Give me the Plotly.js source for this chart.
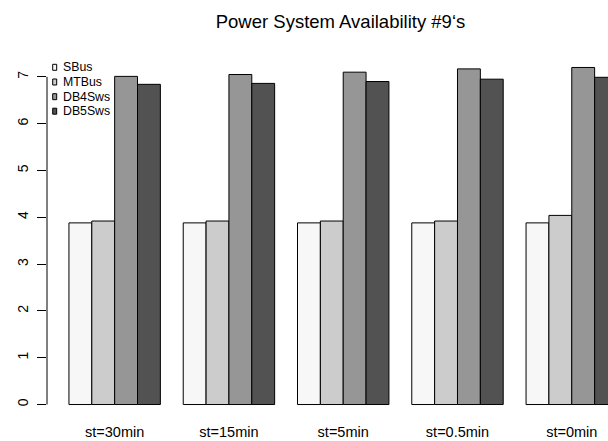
<!DOCTYPE html>
<html>
<head>
<meta charset="utf-8">
<script src="https://cdn.plot.ly/plotly-3.0.1.min.js"></script>
<style>
  html, body { margin: 0; padding: 0; background: #fff; }
  #chart { width: 608px; height: 441px; }
</style>
</head>
<body>
<div id="chart"></div>
<script>
// ---- data ----
const categories = ["st=30min", "st=15min", "st=5min", "st=0.5min", "st=0min"];
const seriesNames = ["SBus", "MTBus", "DB4Sws", "DB5Sws"];
const sbus   = [3.88, 3.88, 3.88, 3.88, 3.88];
const mtbus  = [3.92, 3.92, 3.92, 3.92, 4.04];
const db4sws = [7.01, 7.05, 7.10, 7.17, 7.20];
const db5sws = [6.84, 6.86, 6.90, 6.95, 6.99];
const yTicks = [0, 1, 2, 3, 4, 5, 6, 7];
const titleText = "Power System Availability #9\u2018s";

// ---- styling ----
const colors = ["#F7F7F7", "#CCCCCC", "#969696", "#525252"];
const seriesValues = [sbus, mtbus, db4sws, db5sws];
const W = 608, H = 441;
const M = { l: 47, r: 0, t: 54, b: 23 };
const FONT = "Liberation Sans, Arial, Helvetica, sans-serif";

const traces = seriesValues.map((vals, i) => ({
  type: "bar",
  name: seriesNames[i],
  x: categories,
  y: vals,
  marker: { color: colors[i], line: { color: "#000", width: 1 } },
  showlegend: false,
  hoverinfo: "x+y+name"
}));

const pw = W - M.l - M.r, ph = H - M.t - M.b;
const px2x = p => (p - M.l) / pw;
const px2y = p => 1 - (p - M.t) / ph;

const shapes = [{
  type: "line", xref: "paper", yref: "y",
  x0: 0, x1: 0, y0: yTicks[0], y1: yTicks[yTicks.length - 1],
  line: { color: "#000", width: 1 }
}];
const annotations = [];
const legendRows = [67.3, 82.0, 96.7, 111.2];
seriesNames.forEach((nm, i) => {
  const cy = legendRows[i];
  shapes.push({
    type: "rect", xref: "paper", yref: "paper",
    x0: px2x(52.7), x1: px2x(56.7), y0: px2y(cy + 3), y1: px2y(cy - 3),
    fillcolor: colors[i], line: { color: "#000", width: 1 }
  });
  annotations.push({
    xref: "paper", yref: "paper", x: px2x(61), y: px2y(cy),
    xanchor: "left", yanchor: "middle", showarrow: false,
    text: nm, font: { family: FONT, size: 12.3, color: "#000" }
  });
});

const layout = {
  width: W, height: H,
  margin: M,
  paper_bgcolor: "#fff", plot_bgcolor: "#fff",
  barmode: "group", bargap: 0.2, bargroupgap: 0,
  showlegend: false,
  title: {
    text: titleText, xref: "container", yref: "container",
    x: 340.5 / W, xanchor: "center", y: 1 - 21.5 / H, yanchor: "middle",
    font: { family: FONT, size: 18.5, color: "#000" }
  },
  xaxis: {
    type: "category",
    range: [-0.592, 4.317],
    showgrid: false, zeroline: false, showline: false, ticks: "",
    tickfont: { family: FONT, size: 14.5, color: "#000" },
    ticklabelstandoff: 3
  },
  yaxis: {
    range: [-0.288, 7.488],
    tickvals: yTicks, ticktext: yTicks.map(String),
    showgrid: false, zeroline: false, showline: false,
    ticks: "outside", ticklen: 9, tickwidth: 1, tickcolor: "#000",
    tickangle: -90,
    tickfont: { family: FONT, size: 14, color: "#000" },
    ticklabelstandoff: 3
  },
  shapes: shapes,
  annotations: annotations
};

Plotly.newPlot("chart", traces, layout, { displayModeBar: false, staticPlot: true });
</script>
</body>
</html>
